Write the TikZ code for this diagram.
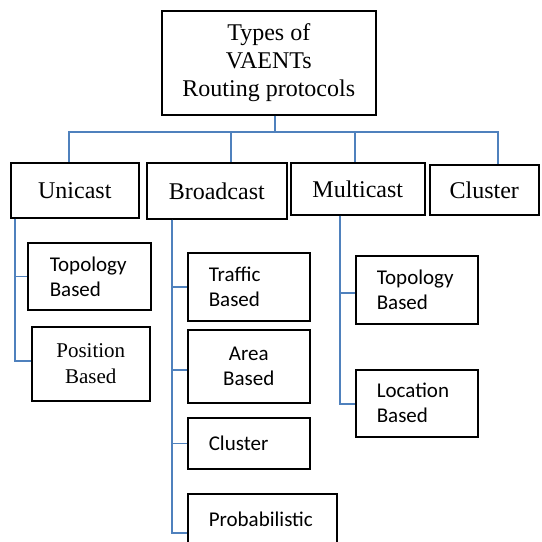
\documentclass[tikz,border=0pt]{standalone}
\usepackage{fontspec}
\setmainfont{Liberation Serif}
\newfontfamily\calib{Carlito}
\definecolor{lineblue}{RGB}{79,129,189}
\begin{document}
\begin{tikzpicture}[x=1pt,y=-1pt,
 box/.style={draw=black,line width=1.6pt,rectangle,anchor=north west,inner sep=0pt},
 serifbox/.style={box,align=center,font=\fontsize{24}{28}\selectfont},
 smallserif/.style={box,align=center,font=\fontsize{21}{25.5}\selectfont},
 sansbox/.style={box,align=left,inner xsep=21pt,font=\calib\fontsize{21}{25}\selectfont},
 sanscenter/.style={box,align=center,font=\calib\fontsize{21}{25}\selectfont},
 conn/.style={draw=lineblue,line width=1.4pt}]
\useasboundingbox (0,0) rectangle (542,542);
% top
\node[serifbox,minimum width=214,minimum height=104] (top) at (161,10) {Types of\\VAENTs\\Routing protocols};
% level 1
\node[serifbox,minimum width=128,minimum height=55] (uni) at (10,162) {Unicast};
\node[serifbox,minimum width=140,minimum height=56] (bro) at (146,162) {Broadcast};
\node[serifbox,minimum width=134,minimum height=52] (mul) at (290,162) {Multicast};
\node[serifbox,minimum width=109,minimum height=50] (clu) at (429,164) {Cluster};
% unicast children
\node[sansbox,inner xsep=22pt,text width=79,minimum width=123,minimum height=67] (ut) at (27,242) {Topology\\Based};
\node[smallserif,minimum width=118,minimum height=74] (pb) at (31,326) {Position\\Based};
% broadcast children
\node[sansbox,text width=80,minimum width=122,minimum height=68] (tr) at (187,252) {Traffic\\Based};
\node[sanscenter,minimum width=122,minimum height=73] (ar) at (187,329) {Area\\Based};
\node[sansbox,text width=80,minimum width=122,minimum height=51] (cl) at (187,417) {Cluster};
\node[sansbox,text width=107,minimum width=149,minimum height=50] (pr) at (187,493) {Probabilistic};
% multicast children
\node[sansbox,text width=80,minimum width=122,minimum height=68] (mt) at (355,255) {Topology\\Based};
\node[sansbox,text width=80,minimum width=122,minimum height=67] (ml) at (355,369) {Location\\Based};
% connectors
\coordinate (bus) at (275,132);
\draw[conn] (275,0 |- top.south) -- (bus) -| (69,0 |- uni.north);
\draw[conn] (bus) -| (231,0 |- bro.north);
\draw[conn] (bus) -| (355,0 |- mul.north);
\draw[conn] (bus) -| (498,0 |- clu.north);
\draw[conn] (15,0 |- uni.south) |- (ut.west);
\draw[conn] (15,0 |- uni.south) |- (pb.west |- 0,361);
\draw[conn] (172,0 |- bro.south) |- (tr.west);
\draw[conn] (172,0 |- bro.south) |- (ar.west |- 0,370);
\draw[conn] (172,0 |- bro.south) |- (cl.west);
\draw[conn] (172,0 |- bro.south) |- (pr.west |- 0,533);
\draw[conn] (340,0 |- mul.south) |- (mt.west |- 0,293);
\draw[conn] (340,0 |- mul.south) |- (ml.west |- 0,404);
\end{tikzpicture}
\end{document}
